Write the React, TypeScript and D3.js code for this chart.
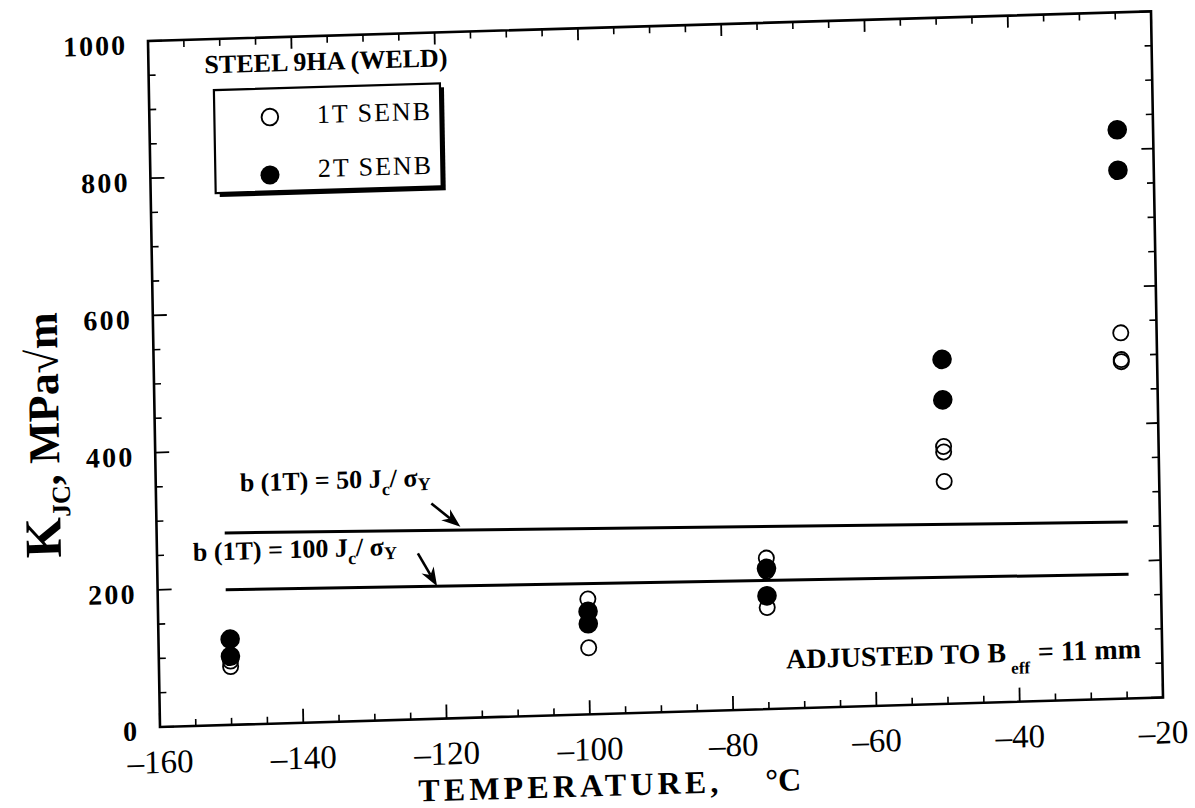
import React from 'react';
import * as d3 from 'd3';

// ---------- data ----------
const xDomain = [-160, -20];
const yDomain = [0, 1000];
const xMajorTicks = [-160, -140, -120, -100, -80, -60, -40, -20];
const xTickLabels = ['–160', '–140', '–120', '–100', '–80', '–60', '–40', '–20'];
const yMajorTicks = [0, 200, 400, 600, 800, 1000];
const yTickLabels = ['0', '200', '400', '600', '800', '1000'];
const xMinorStep = 5;
const yMinorStep = 50;

const temp1T = [-150, -150, -100, -100, -75, -75, -75, -50, -50, -50, -25, -25, -25];
const kjc1T = [85, 93, 168, 97, 220, 201, 148, 375, 367, 324, 533, 491, 494];
const temp2T = [-150, -150, -100, -100, -75, -75, -50, -50, -25, -25];
const kjc2T = [125, 100, 150, 132, 205, 165, 502, 443, 829, 770];

const limitTemps = [-150.5, -24.5];
const limit50 = [280, 257];
const limit100 = [197, 181];

// ---------- layout ----------
const W = 1003;
const H = 686;
const SERIF = '"Liberation Serif", "Times New Roman", serif';

function Arrow({ x1, y1, x2, y2 }: { x1: number; y1: number; x2: number; y2: number }) {
  const ang = Math.atan2(y2 - y1, x2 - x1);
  const L = 19, Wd = 7;
  const bx = x2 - L * Math.cos(ang), by = y2 - L * Math.sin(ang);
  const px = -Math.sin(ang) * Wd, py = Math.cos(ang) * Wd;
  const mx = bx + (x2 - bx) * 0.3, my = by + (y2 - by) * 0.3;
  return (
    <g>
      <line x1={x1} y1={y1} x2={mx} y2={my} stroke="#000" strokeWidth={2.6} />
      <path d={`M${x2},${y2} L${bx + px},${by + py} L${mx},${my} L${bx - px},${by - py} Z`} fill="#000" />
    </g>
  );
}

export default function App() {
  const x = d3.scaleLinear().domain(xDomain).range([0, W]);
  const y = d3.scaleLinear().domain(yDomain).range([H, 0]);
  const xMinor = d3.range(xDomain[0], xDomain[1] + 0.001, xMinorStep).filter((v) => !xMajorTicks.includes(v));
  const yMinor = d3.range(yDomain[0], yDomain[1] + 0.001, yMinorStep).filter((v) => !yMajorTicks.includes(v));
  const line = d3.line<[number, number]>().x((d) => x(d[0])).y((d) => y(d[1]));
  const l50 = limitTemps.map((t, i) => [t, limit50[i]] as [number, number]);
  const l100 = limitTemps.map((t, i) => [t, limit100[i]] as [number, number]);
  const MAJ = 14, MIN = 7;

  return (
    <svg width={1195} height={808} style={{ position: 'fixed', left: 0, top: 0, background: '#fff' }}>
      <rect x={0} y={0} width={1195} height={808} fill="#fff" />
      <g transform="matrix(1,-0.0295,0.0175,1,148,41)" fontFamily={SERIF} fill="#000">
        {/* frame */}
        <rect x={0} y={0} width={W} height={H} fill="none" stroke="#000" strokeWidth={2.6} />
        {xMajorTicks.map((t) => (
          <g key={'xM' + t}>
            <line x1={x(t)} x2={x(t)} y1={H} y2={H - MAJ} stroke="#000" strokeWidth={1.8} />
            <line x1={x(t)} x2={x(t)} y1={0} y2={MAJ - 2} stroke="#000" strokeWidth={1.8} />
          </g>
        ))}
        {xMinor.map((t) => (
          <g key={'xm' + t}>
            <line x1={x(t)} x2={x(t)} y1={H} y2={H - MIN} stroke="#000" strokeWidth={1.6} />
            <line x1={x(t)} x2={x(t)} y1={0} y2={MIN} stroke="#000" strokeWidth={1.6} />
          </g>
        ))}
        {yMajorTicks.map((v) => (
          <g key={'yM' + v}>
            <line x1={0} x2={MAJ} y1={y(v)} y2={y(v)} stroke="#000" strokeWidth={1.8} />
            <line x1={W} x2={W - MAJ + 2} y1={y(v)} y2={y(v)} stroke="#000" strokeWidth={1.8} />
          </g>
        ))}
        {yMinor.map((v) => (
          <g key={'ym' + v}>
            <line x1={0} x2={MIN} y1={y(v)} y2={y(v)} stroke="#000" strokeWidth={1.6} />
            <line x1={W} x2={W - MIN} y1={y(v)} y2={y(v)} stroke="#000" strokeWidth={1.6} />
          </g>
        ))}
        {/* tick labels */}
        {xMajorTicks.map((t, i) => (
          <text key={'xl' + t} x={x(t)} y={H + 46} textAnchor="middle" fontSize={33}>
            {xTickLabels[i]}
          </text>
        ))}
        {yMajorTicks.map((v, i) => (
          <text key={'yl' + v} x={-23} y={y(v) + 13} textAnchor="end" fontSize={28} fontWeight="bold"
            textLength={yTickLabels[i].length * 15.5} lengthAdjust="spacing">
            {yTickLabels[i]}
          </text>
        ))}
        {/* axis titles */}
        <text x={257} y={H + 82} fontSize={32} fontWeight="bold" textLength={300} lengthAdjust="spacing">
          TEMPERATURE,
        </text>
        <text x={604} y={H + 82} fontSize={32} fontWeight="bold">°C</text>
        <g transform={`translate(-96, ${H / 2 + 48}) rotate(-90)`}>
          <text x={0} y={0} textAnchor="middle" fontWeight="bold" fontSize={44}>
            <tspan fontSize={52}>K</tspan>
            <tspan fontSize={26} dy={10}>JC</tspan>
            <tspan fontSize={44} dy={-10}>,  MPa√m</tspan>
          </text>
        </g>

        {/* limit lines */}
        <path d={line(l50) || ''} fill="none" stroke="#000" strokeWidth={3} />
        <path d={line(l100) || ''} fill="none" stroke="#000" strokeWidth={3} />
        <Arrow x1={x(-121.6)} y1={y(314)} x2={x(-117.6)} y2={y(279)} />
        <Arrow x1={x(-123.6)} y1={y(242)} x2={x(-121)} y2={y(193)} />
        <text x={84} y={453} fontSize={26} fontWeight="bold">
          b (1T) = 50 J<tspan fontSize={18} dy={8}>c</tspan>
          <tspan dy={-8}>/ σ</tspan>
          <tspan fontSize={18} dy={4}>Y</tspan>
        </text>
        <text x={36} y={521} fontSize={26} fontWeight="bold">
          b (1T) = 100 J<tspan fontSize={18} dy={8}>c</tspan>
          <tspan dy={-8}>/ σ</tspan>
          <tspan fontSize={18} dy={4}>Y</tspan>
        </text>

        {/* data */}
        {temp2T.map((t, i) => (
          <circle key={'f' + i} cx={x(t)} cy={y(kjc2T[i])} r={9.8} fill="#000" />
        ))}
        {temp1T.map((t, i) => (
          <circle key={'o' + i} cx={x(t)} cy={y(kjc1T[i])} r={7.6} fill="none" stroke="#000" strokeWidth={1.8} />
        ))}

        {/* legend */}
        <text x={56} y={34} fontSize={26} fontWeight="bold" textLength={243} lengthAdjust="spacing">
          STEEL 9HA (WELD)
        </text>
        <rect x={69} y={55} width={226} height={103} fill="#000" />
        <rect x={65} y={51} width={226} height={103} fill="#fff" stroke="#000" strokeWidth={2.2} />
        <circle cx={120.5} cy={79.6} r={8.3} fill="none" stroke="#000" strokeWidth={1.9} />
        <circle cx={119.6} cy={137.5} r={9.5} fill="#000" />
        <text x={167.6} y={87} fontSize={26} textLength={113} lengthAdjust="spacing">1T SENB</text>
        <text x={167.6} y={141} fontSize={26} textLength={113} lengthAdjust="spacing">2T SENB</text>

        {/* annotation */}
        <text x={627} y={646} fontSize={28} fontWeight="bold">
          ADJUSTED TO B<tspan fontSize={17} dx={5} dy={12}>eff</tspan>
          <tspan dx={8} dy={-12}>= 11 mm</tspan>
        </text>
      </g>
    </svg>
  );
}
